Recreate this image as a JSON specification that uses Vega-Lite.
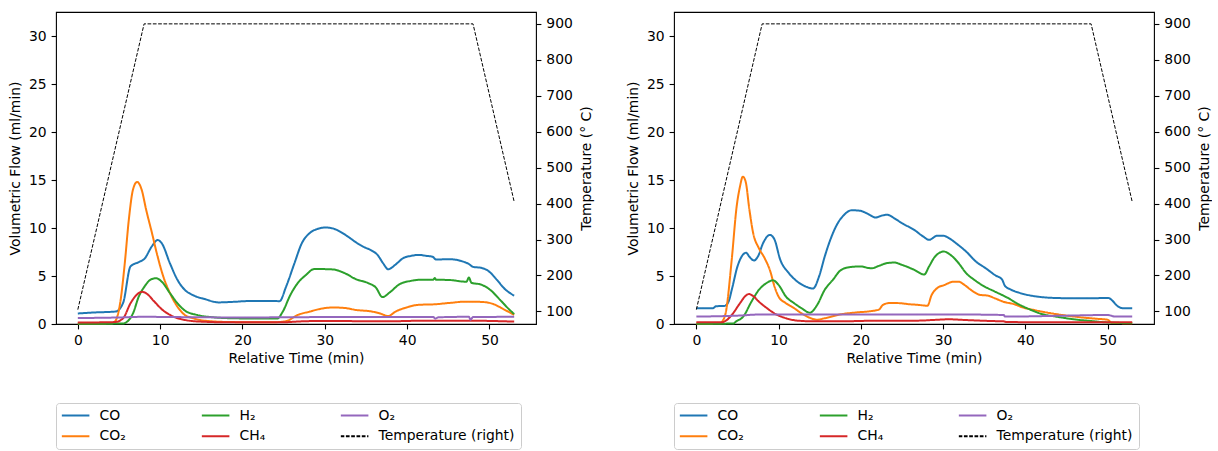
{
  "$schema": "https://vega.github.io/schema/vega-lite/v6.json",
  "padding": {"left": 7, "top": 11, "right": 0, "bottom": 0},
  "background": "white",
  "config": {
    "font": "DejaVu Sans",
    "view": {"stroke": "black", "strokeWidth": 1.1},
    "axis": {"grid": false, "domain": false, "ticks": true, "tickColor": "black", "tickWidth": 1.1, "tickSize": 4.9, "labelPadding": 4.9, "labelFontSize": 13.9, "labelColor": "black", "titleFontSize": 13.9, "titleFontWeight": "normal", "titleColor": "black", "labelFlush": false, "labelOverlap": false},
    "legend": {"orient": "none", "legendX": 0, "legendY": 391, "columns": 3, "direction": "horizontal", "symbolType": "stroke", "symbolSize": 773, "symbolStrokeWidth": 2, "symbolOffset": -1.1, "clipHeight": 14, "labelFontSize": 13.9, "labelColor": "black", "labelOffset": 9.1, "columnPadding": 75, "rowPadding": 6.7, "padding": 5.6, "strokeColor": "#cccccc", "cornerRadius": 3, "fillColor": "white", "gridAlign": "each", "labelLimit": 300, "title": null}
  },
  "datasets": {
    "flow": [
      {"panel":"A","series":"CO","t":0,"v":1.1},{"panel":"A","series":"CO","t":2,"v":1.2},{"panel":"A","series":"CO","t":4.6,"v":1.3},{"panel":"A","series":"CO","t":5.5,"v":2.2},{"panel":"A","series":"CO","t":6.4,"v":6.0},{"panel":"A","series":"CO","t":7.4,"v":6.45},{"panel":"A","series":"CO","t":8.1,"v":6.8},{"panel":"A","series":"CO","t":9.0,"v":8.1},{"panel":"A","series":"CO","t":9.7,"v":8.75},{"panel":"A","series":"CO","t":10.2,"v":8.4},{"panel":"A","series":"CO","t":11.2,"v":6.3},{"panel":"A","series":"CO","t":12.1,"v":4.6},{"panel":"A","series":"CO","t":13,"v":3.55},{"panel":"A","series":"CO","t":14,"v":3.0},{"panel":"A","series":"CO","t":15.4,"v":2.6},{"panel":"A","series":"CO","t":17.1,"v":2.25},{"panel":"A","series":"CO","t":18.7,"v":2.3},{"panel":"A","series":"CO","t":21.1,"v":2.4},{"panel":"A","series":"CO","t":23.4,"v":2.4},{"panel":"A","series":"CO","t":24.5,"v":2.38},{"panel":"A","series":"CO","t":25.3,"v":3.9},{"panel":"A","series":"CO","t":26.3,"v":6.3},{"panel":"A","series":"CO","t":27.2,"v":8.4},{"panel":"A","series":"CO","t":28.2,"v":9.5},{"panel":"A","series":"CO","t":29.1,"v":9.9},{"panel":"A","series":"CO","t":30.1,"v":10.05},{"panel":"A","series":"CO","t":31,"v":9.95},{"panel":"A","series":"CO","t":31.9,"v":9.6},{"panel":"A","series":"CO","t":32.9,"v":9.05},{"panel":"A","series":"CO","t":33.8,"v":8.5},{"panel":"A","series":"CO","t":34.8,"v":8.0},{"panel":"A","series":"CO","t":35.7,"v":7.65},{"panel":"A","series":"CO","t":36.4,"v":7.2},{"panel":"A","series":"CO","t":37.1,"v":6.3},{"panel":"A","series":"CO","t":37.7,"v":5.7},{"panel":"A","series":"CO","t":38.6,"v":6.2},{"panel":"A","series":"CO","t":39.5,"v":6.85},{"panel":"A","series":"CO","t":40.5,"v":7.1},{"panel":"A","series":"CO","t":41.4,"v":7.2},{"panel":"A","series":"CO","t":42.3,"v":7.1},{"panel":"A","series":"CO","t":43.1,"v":7.0},{"panel":"A","series":"CO","t":43.5,"v":6.72},{"panel":"A","series":"CO","t":45.2,"v":6.75},{"panel":"A","series":"CO","t":46.6,"v":6.55},{"panel":"A","series":"CO","t":47.5,"v":6.25},{"panel":"A","series":"CO","t":48,"v":5.95},{"panel":"A","series":"CO","t":49,"v":5.85},{"panel":"A","series":"CO","t":49.9,"v":5.5},{"panel":"A","series":"CO","t":50.9,"v":4.6},{"panel":"A","series":"CO","t":51.8,"v":3.7},{"panel":"A","series":"CO","t":53,"v":2.95},
      {"panel":"A","series":"CO₂","t":0,"v":0.05},{"panel":"A","series":"CO₂","t":4.0,"v":0.07},{"panel":"A","series":"CO₂","t":4.5,"v":0.25},{"panel":"A","series":"CO₂","t":5.2,"v":2.5},{"panel":"A","series":"CO₂","t":5.7,"v":6.3},{"panel":"A","series":"CO₂","t":6.2,"v":10.9},{"panel":"A","series":"CO₂","t":6.7,"v":14.0},{"panel":"A","series":"CO₂","t":7.2,"v":14.8},{"panel":"A","series":"CO₂","t":7.75,"v":14.0},{"panel":"A","series":"CO₂","t":8.3,"v":11.9},{"panel":"A","series":"CO₂","t":9.0,"v":9.5},{"panel":"A","series":"CO₂","t":9.7,"v":7.0},{"panel":"A","series":"CO₂","t":10.4,"v":4.9},{"panel":"A","series":"CO₂","t":11.2,"v":3.2},{"panel":"A","series":"CO₂","t":12.1,"v":1.8},{"panel":"A","series":"CO₂","t":13,"v":0.94},{"panel":"A","series":"CO₂","t":14,"v":0.6},{"panel":"A","series":"CO₂","t":15.4,"v":0.35},{"panel":"A","series":"CO₂","t":18.7,"v":0.2},{"panel":"A","series":"CO₂","t":23.4,"v":0.17},{"panel":"A","series":"CO₂","t":25.3,"v":0.3},{"panel":"A","series":"CO₂","t":26.7,"v":0.94},{"panel":"A","series":"CO₂","t":28.2,"v":1.3},{"panel":"A","series":"CO₂","t":29.6,"v":1.6},{"panel":"A","series":"CO₂","t":31,"v":1.72},{"panel":"A","series":"CO₂","t":32.4,"v":1.67},{"panel":"A","series":"CO₂","t":33.8,"v":1.46},{"panel":"A","series":"CO₂","t":35.7,"v":1.3},{"panel":"A","series":"CO₂","t":36.7,"v":1.1},{"panel":"A","series":"CO₂","t":37.7,"v":0.83},{"panel":"A","series":"CO₂","t":38.6,"v":1.3},{"panel":"A","series":"CO₂","t":40,"v":1.74},{"panel":"A","series":"CO₂","t":41.4,"v":2.0},{"panel":"A","series":"CO₂","t":43.3,"v":2.05},{"panel":"A","series":"CO₂","t":45.2,"v":2.2},{"panel":"A","series":"CO₂","t":47.1,"v":2.33},{"panel":"A","series":"CO₂","t":49,"v":2.3},{"panel":"A","series":"CO₂","t":50.4,"v":2.1},{"panel":"A","series":"CO₂","t":51.8,"v":1.5},{"panel":"A","series":"CO₂","t":53,"v":0.95},
      {"panel":"A","series":"H₂","t":0,"v":0.02},{"panel":"A","series":"H₂","t":5.5,"v":0.05},{"panel":"A","series":"H₂","t":6.0,"v":0.25},{"panel":"A","series":"H₂","t":6.7,"v":1.1},{"panel":"A","series":"H₂","t":7.4,"v":2.85},{"panel":"A","series":"H₂","t":8.1,"v":3.9},{"panel":"A","series":"H₂","t":8.8,"v":4.6},{"panel":"A","series":"H₂","t":9.5,"v":4.77},{"panel":"A","series":"H₂","t":10.2,"v":4.4},{"panel":"A","series":"H₂","t":11.2,"v":3.2},{"panel":"A","series":"H₂","t":12.1,"v":2.16},{"panel":"A","series":"H₂","t":13,"v":1.4},{"panel":"A","series":"H₂","t":14.5,"v":0.94},{"panel":"A","series":"H₂","t":16.4,"v":0.7},{"panel":"A","series":"H₂","t":18.7,"v":0.6},{"panel":"A","series":"H₂","t":23.4,"v":0.56},{"panel":"A","series":"H₂","t":24.2,"v":0.56},{"panel":"A","series":"H₂","t":24.9,"v":1.3},{"panel":"A","series":"H₂","t":25.8,"v":3.0},{"panel":"A","series":"H₂","t":26.7,"v":4.25},{"panel":"A","series":"H₂","t":27.7,"v":5.1},{"panel":"A","series":"H₂","t":28.7,"v":5.72},{"panel":"A","series":"H₂","t":29.6,"v":5.72},{"panel":"A","series":"H₂","t":31,"v":5.68},{"panel":"A","series":"H₂","t":32.4,"v":5.3},{"panel":"A","series":"H₂","t":33.8,"v":4.66},{"panel":"A","series":"H₂","t":35.3,"v":4.25},{"panel":"A","series":"H₂","t":36.2,"v":3.8},{"panel":"A","series":"H₂","t":37.0,"v":2.8},{"panel":"A","series":"H₂","t":37.9,"v":3.3},{"panel":"A","series":"H₂","t":39,"v":4.1},{"panel":"A","series":"H₂","t":40.5,"v":4.5},{"panel":"A","series":"H₂","t":41.9,"v":4.62},{"panel":"A","series":"H₂","t":43.2,"v":4.62},{"panel":"A","series":"H₂","t":43.35,"v":4.8},{"panel":"A","series":"H₂","t":43.5,"v":4.62},{"panel":"A","series":"H₂","t":45.2,"v":4.58},{"panel":"A","series":"H₂","t":47.2,"v":4.4},{"panel":"A","series":"H₂","t":47.5,"v":4.85},{"panel":"A","series":"H₂","t":47.8,"v":4.3},{"panel":"A","series":"H₂","t":49,"v":4.1},{"panel":"A","series":"H₂","t":50.1,"v":3.55},{"panel":"A","series":"H₂","t":51.3,"v":2.5},{"panel":"A","series":"H₂","t":52.3,"v":1.6},{"panel":"A","series":"H₂","t":53,"v":1.04},
      {"panel":"A","series":"CH₄","t":0,"v":0.15},{"panel":"A","series":"CH₄","t":4.5,"v":0.2},{"panel":"A","series":"CH₄","t":5.5,"v":0.6},{"panel":"A","series":"CH₄","t":6.4,"v":2.16},{"panel":"A","series":"CH₄","t":7.1,"v":3.0},{"panel":"A","series":"CH₄","t":7.8,"v":3.35},{"panel":"A","series":"CH₄","t":8.3,"v":3.2},{"panel":"A","series":"CH₄","t":9.3,"v":2.33},{"panel":"A","series":"CH₄","t":10.2,"v":1.53},{"panel":"A","series":"CH₄","t":11.6,"v":0.77},{"panel":"A","series":"CH₄","t":13,"v":0.42},{"panel":"A","series":"CH₄","t":14.9,"v":0.25},{"panel":"A","series":"CH₄","t":18.7,"v":0.17},{"panel":"A","series":"CH₄","t":24.4,"v":0.17},{"panel":"A","series":"CH₄","t":28.2,"v":0.3},{"panel":"A","series":"CH₄","t":32.9,"v":0.3},{"panel":"A","series":"CH₄","t":37.6,"v":0.28},{"panel":"A","series":"CH₄","t":42.3,"v":0.35},{"panel":"A","series":"CH₄","t":47.1,"v":0.35},{"panel":"A","series":"CH₄","t":53,"v":0.25},
      {"panel":"A","series":"O₂","t":0,"v":0.62},{"panel":"A","series":"O₂","t":5,"v":0.68},{"panel":"A","series":"O₂","t":8,"v":0.75},{"panel":"A","series":"O₂","t":12,"v":0.72},{"panel":"A","series":"O₂","t":20,"v":0.68},{"panel":"A","series":"O₂","t":30,"v":0.72},{"panel":"A","series":"O₂","t":40,"v":0.72},{"panel":"A","series":"O₂","t":43.2,"v":0.72},{"panel":"A","series":"O₂","t":43.4,"v":0.55},{"panel":"A","series":"O₂","t":43.8,"v":0.7},{"panel":"A","series":"O₂","t":47.5,"v":0.75},{"panel":"A","series":"O₂","t":47.7,"v":0.45},{"panel":"A","series":"O₂","t":48.0,"v":0.72},{"panel":"A","series":"O₂","t":53,"v":0.75},
      {"panel":"B","series":"CO","t":0,"v":1.64},{"panel":"B","series":"CO","t":2.0,"v":1.64},{"panel":"B","series":"CO","t":2.4,"v":1.85},{"panel":"B","series":"CO","t":3.4,"v":1.88},{"panel":"B","series":"CO","t":3.9,"v":2.3},{"panel":"B","series":"CO","t":4.3,"v":3.55},{"panel":"B","series":"CO","t":5.0,"v":6.0},{"panel":"B","series":"CO","t":6.05,"v":7.42},{"panel":"B","series":"CO","t":6.45,"v":7.0},{"panel":"B","series":"CO","t":7.0,"v":6.62},{"panel":"B","series":"CO","t":7.5,"v":7.05},{"panel":"B","series":"CO","t":8.1,"v":8.4},{"panel":"B","series":"CO","t":8.95,"v":9.28},{"panel":"B","series":"CO","t":9.5,"v":8.8},{"panel":"B","series":"CO","t":10.2,"v":6.7},{"panel":"B","series":"CO","t":11.2,"v":5.35},{"panel":"B","series":"CO","t":12.3,"v":4.4},{"panel":"B","series":"CO","t":13.3,"v":3.9},{"panel":"B","series":"CO","t":14.2,"v":3.7},{"panel":"B","series":"CO","t":14.9,"v":4.9},{"panel":"B","series":"CO","t":15.6,"v":7.0},{"panel":"B","series":"CO","t":16.3,"v":8.8},{"panel":"B","series":"CO","t":17.0,"v":10.2},{"panel":"B","series":"CO","t":18.0,"v":11.4},{"panel":"B","series":"CO","t":18.9,"v":11.85},{"panel":"B","series":"CO","t":19.9,"v":11.8},{"panel":"B","series":"CO","t":20.8,"v":11.5},{"panel":"B","series":"CO","t":21.8,"v":11.1},{"panel":"B","series":"CO","t":22.5,"v":11.28},{"panel":"B","series":"CO","t":23.2,"v":11.38},{"panel":"B","series":"CO","t":24.1,"v":11.0},{"panel":"B","series":"CO","t":25.0,"v":10.5},{"panel":"B","series":"CO","t":26.5,"v":9.8},{"panel":"B","series":"CO","t":27.6,"v":9.1},{"panel":"B","series":"CO","t":28.3,"v":8.77},{"panel":"B","series":"CO","t":29.3,"v":9.2},{"panel":"B","series":"CO","t":30.0,"v":9.2},{"panel":"B","series":"CO","t":30.7,"v":8.95},{"panel":"B","series":"CO","t":31.6,"v":8.4},{"panel":"B","series":"CO","t":32.8,"v":7.55},{"panel":"B","series":"CO","t":34.0,"v":6.5},{"panel":"B","series":"CO","t":35.2,"v":5.8},{"panel":"B","series":"CO","t":36.3,"v":5.1},{"panel":"B","series":"CO","t":37.2,"v":4.6},{"panel":"B","series":"CO","t":37.5,"v":4.0},{"panel":"B","series":"CO","t":38.2,"v":3.6},{"panel":"B","series":"CO","t":39.2,"v":3.27},{"panel":"B","series":"CO","t":40.1,"v":3.06},{"panel":"B","series":"CO","t":41.5,"v":2.85},{"panel":"B","series":"CO","t":43.4,"v":2.72},{"panel":"B","series":"CO","t":45.8,"v":2.68},{"panel":"B","series":"CO","t":48.1,"v":2.68},{"panel":"B","series":"CO","t":50.1,"v":2.72},{"panel":"B","series":"CO","t":50.5,"v":2.5},{"panel":"B","series":"CO","t":51.2,"v":1.88},{"panel":"B","series":"CO","t":51.9,"v":1.64},{"panel":"B","series":"CO","t":53,"v":1.64},
      {"panel":"B","series":"CO₂","t":0,"v":0.05},{"panel":"B","series":"CO₂","t":3.0,"v":0.08},{"panel":"B","series":"CO₂","t":3.15,"v":0.25},{"panel":"B","series":"CO₂","t":3.6,"v":1.3},{"panel":"B","series":"CO₂","t":4.3,"v":6.7},{"panel":"B","series":"CO₂","t":4.9,"v":12.25},{"panel":"B","series":"CO₂","t":5.3,"v":14.3},{"panel":"B","series":"CO₂","t":5.65,"v":15.35},{"panel":"B","series":"CO₂","t":6.0,"v":14.8},{"panel":"B","series":"CO₂","t":6.45,"v":11.9},{"panel":"B","series":"CO₂","t":6.9,"v":9.5},{"panel":"B","series":"CO₂","t":7.6,"v":7.9},{"panel":"B","series":"CO₂","t":8.3,"v":6.86},{"panel":"B","series":"CO₂","t":9.0,"v":5.46},{"panel":"B","series":"CO₂","t":9.5,"v":3.9},{"panel":"B","series":"CO₂","t":10.0,"v":2.85},{"panel":"B","series":"CO₂","t":10.9,"v":2.16},{"panel":"B","series":"CO₂","t":11.9,"v":1.64},{"panel":"B","series":"CO₂","t":12.8,"v":1.1},{"panel":"B","series":"CO₂","t":13.75,"v":0.66},{"panel":"B","series":"CO₂","t":14.7,"v":0.45},{"panel":"B","series":"CO₂","t":15.6,"v":0.6},{"panel":"B","series":"CO₂","t":17.5,"v":1.0},{"panel":"B","series":"CO₂","t":19.4,"v":1.2},{"panel":"B","series":"CO₂","t":21.3,"v":1.35},{"panel":"B","series":"CO₂","t":22.2,"v":1.5},{"panel":"B","series":"CO₂","t":22.7,"v":2.0},{"panel":"B","series":"CO₂","t":23.6,"v":2.2},{"panel":"B","series":"CO₂","t":25.0,"v":2.15},{"panel":"B","series":"CO₂","t":26.0,"v":2.05},{"panel":"B","series":"CO₂","t":26.9,"v":2.0},{"panel":"B","series":"CO₂","t":28.1,"v":1.9},{"panel":"B","series":"CO₂","t":28.6,"v":3.0},{"panel":"B","series":"CO₂","t":29.3,"v":3.75},{"panel":"B","series":"CO₂","t":30.2,"v":4.07},{"panel":"B","series":"CO₂","t":31.2,"v":4.4},{"panel":"B","series":"CO₂","t":31.9,"v":4.4},{"panel":"B","series":"CO₂","t":32.6,"v":4.07},{"panel":"B","series":"CO₂","t":33.5,"v":3.48},{"panel":"B","series":"CO₂","t":34.5,"v":3.03},{"panel":"B","series":"CO₂","t":35.4,"v":2.96},{"panel":"B","series":"CO₂","t":36.3,"v":2.68},{"panel":"B","series":"CO₂","t":37.3,"v":2.33},{"panel":"B","series":"CO₂","t":38.7,"v":2.05},{"panel":"B","series":"CO₂","t":39.6,"v":1.75},{"panel":"B","series":"CO₂","t":41.1,"v":1.45},{"panel":"B","series":"CO₂","t":42.9,"v":1.15},{"panel":"B","series":"CO₂","t":44.8,"v":0.9},{"panel":"B","series":"CO₂","t":46.7,"v":0.7},{"panel":"B","series":"CO₂","t":48.6,"v":0.55},{"panel":"B","series":"CO₂","t":50.0,"v":0.45},{"panel":"B","series":"CO₂","t":50.5,"v":0.14},{"panel":"B","series":"CO₂","t":53,"v":0.07},
      {"panel":"B","series":"H₂","t":0,"v":0.02},{"panel":"B","series":"H₂","t":4.5,"v":0.05},{"panel":"B","series":"H₂","t":4.8,"v":0.25},{"panel":"B","series":"H₂","t":5.7,"v":0.77},{"panel":"B","series":"H₂","t":6.7,"v":2.33},{"panel":"B","series":"H₂","t":7.6,"v":3.55},{"panel":"B","series":"H₂","t":8.6,"v":4.3},{"panel":"B","series":"H₂","t":9.3,"v":4.55},{"panel":"B","series":"H₂","t":10.0,"v":4.07},{"panel":"B","series":"H₂","t":10.9,"v":2.85},{"panel":"B","series":"H₂","t":11.9,"v":2.16},{"panel":"B","series":"H₂","t":12.8,"v":1.64},{"panel":"B","series":"H₂","t":13.8,"v":1.18},{"panel":"B","series":"H₂","t":14.7,"v":2.0},{"panel":"B","series":"H₂","t":15.6,"v":3.55},{"panel":"B","series":"H₂","t":16.6,"v":4.6},{"panel":"B","series":"H₂","t":17.5,"v":5.57},{"panel":"B","series":"H₂","t":18.5,"v":5.9},{"panel":"B","series":"H₂","t":19.9,"v":6.0},{"panel":"B","series":"H₂","t":21.3,"v":5.8},{"panel":"B","series":"H₂","t":22.2,"v":6.06},{"panel":"B","series":"H₂","t":23.2,"v":6.35},{"panel":"B","series":"H₂","t":24.1,"v":6.4},{"panel":"B","series":"H₂","t":25.0,"v":6.16},{"panel":"B","series":"H₂","t":26.5,"v":5.64},{"panel":"B","series":"H₂","t":27.7,"v":5.15},{"panel":"B","series":"H₂","t":28.3,"v":6.0},{"panel":"B","series":"H₂","t":29.0,"v":7.0},{"panel":"B","series":"H₂","t":30.1,"v":7.55},{"panel":"B","series":"H₂","t":30.9,"v":7.2},{"panel":"B","series":"H₂","t":31.9,"v":6.33},{"panel":"B","series":"H₂","t":32.8,"v":5.3},{"panel":"B","series":"H₂","t":33.8,"v":4.6},{"panel":"B","series":"H₂","t":34.9,"v":3.97},{"panel":"B","series":"H₂","t":36.3,"v":3.38},{"panel":"B","series":"H₂","t":37.8,"v":2.75},{"panel":"B","series":"H₂","t":39.2,"v":2.05},{"panel":"B","series":"H₂","t":40.6,"v":1.5},{"panel":"B","series":"H₂","t":42.0,"v":1.04},{"panel":"B","series":"H₂","t":43.9,"v":0.75},{"panel":"B","series":"H₂","t":45.8,"v":0.5},{"panel":"B","series":"H₂","t":48.1,"v":0.3},{"panel":"B","series":"H₂","t":50.5,"v":0.14},{"panel":"B","series":"H₂","t":53,"v":0.1},
      {"panel":"B","series":"CH₄","t":0,"v":0.17},{"panel":"B","series":"CH₄","t":3.0,"v":0.17},{"panel":"B","series":"CH₄","t":3.4,"v":0.25},{"panel":"B","series":"CH₄","t":4.3,"v":0.94},{"panel":"B","series":"CH₄","t":5.3,"v":2.16},{"panel":"B","series":"CH₄","t":6.0,"v":2.95},{"panel":"B","series":"CH₄","t":6.4,"v":3.12},{"panel":"B","series":"CH₄","t":6.9,"v":2.92},{"panel":"B","series":"CH₄","t":7.6,"v":2.33},{"panel":"B","series":"CH₄","t":8.6,"v":1.64},{"panel":"B","series":"CH₄","t":9.5,"v":1.1},{"panel":"B","series":"CH₄","t":10.9,"v":0.6},{"panel":"B","series":"CH₄","t":12.3,"v":0.35},{"panel":"B","series":"CH₄","t":14.2,"v":0.28},{"panel":"B","series":"CH₄","t":17.5,"v":0.28},{"panel":"B","series":"CH₄","t":22.2,"v":0.35},{"panel":"B","series":"CH₄","t":26.9,"v":0.35},{"panel":"B","series":"CH₄","t":28.8,"v":0.42},{"panel":"B","series":"CH₄","t":30.7,"v":0.49},{"panel":"B","series":"CH₄","t":32.6,"v":0.42},{"panel":"B","series":"CH₄","t":36.3,"v":0.3},{"panel":"B","series":"CH₄","t":37.3,"v":0.28},{"panel":"B","series":"CH₄","t":37.8,"v":0.2},{"panel":"B","series":"CH₄","t":53,"v":0.17},
      {"panel":"B","series":"O₂","t":0,"v":0.77},{"panel":"B","series":"O₂","t":5,"v":0.87},{"panel":"B","series":"O₂","t":8,"v":1.0},{"panel":"B","series":"O₂","t":20,"v":1.0},{"panel":"B","series":"O₂","t":30,"v":1.0},{"panel":"B","series":"O₂","t":37.4,"v":0.94},{"panel":"B","series":"O₂","t":37.5,"v":0.77},{"panel":"B","series":"O₂","t":45,"v":0.87},{"panel":"B","series":"O₂","t":50,"v":0.94},{"panel":"B","series":"O₂","t":51,"v":0.77},{"panel":"B","series":"O₂","t":53,"v":0.77}
    ],
    "temp": [
      {"panel":"A","series":"Temperature (right)","t":0,"T":105},{"panel":"A","series":"Temperature (right)","t":8.05,"T":900},{"panel":"A","series":"Temperature (right)","t":48,"T":900},{"panel":"A","series":"Temperature (right)","t":53,"T":405},
      {"panel":"B","series":"Temperature (right)","t":0,"T":105},{"panel":"B","series":"Temperature (right)","t":8.0,"T":900},{"panel":"B","series":"Temperature (right)","t":48,"T":900},{"panel":"B","series":"Temperature (right)","t":53,"T":405}
    ]
  },
  "spacing": 31,
  "resolve": {"scale": {"color": "independent", "strokeDash": "independent"}},
  "hconcat": [
    {
      "width": 480, "height": 312,
      "resolve": {"scale": {"y": "independent"}},
      "layer": [
        {
          "data": {"name": "flow"},
          "transform": [{"filter": "datum.panel === 'A'"}],
          "mark": {"type": "line", "interpolate": "monotone", "strokeWidth": 2},
          "encoding": {
            "x": {"field": "t", "type": "quantitative", "scale": {"domain": [-2.65, 55.65], "nice": false, "zero": false}, "axis": {"values": [0, 10, 20, 30, 40, 50], "title": "Relative Time (min)", "titlePadding": 4}},
            "y": {"field": "v", "type": "quantitative", "scale": {"domain": [0, 32.5], "nice": false}, "axis": {"values": [0, 5, 10, 15, 20, 25, 30], "title": "Volumetric Flow (ml/min)", "titlePadding": 6}},
            "color": {"field": "series", "type": "nominal", "scale": {"domain": ["CO", "H₂", "O₂", "CO₂", "CH₄", "Temperature (right)"], "range": ["#1f77b4", "#2ca02c", "#9467bd", "#ff7f0e", "#d62728", "#000000"]}, "legend": {"title": null}},
            "strokeDash": {"field": "series", "type": "nominal", "scale": {"domain": ["CO", "H₂", "O₂", "CO₂", "CH₄", "Temperature (right)"], "range": [[1, 0], [1, 0], [1, 0], [1, 0], [1, 0], [3.7, 1.6]]}, "legend": {"title": null}}
          }
        },
        {
          "data": {"name": "temp"},
          "transform": [{"filter": "datum.panel === 'A'"}],
          "mark": {"type": "line", "strokeWidth": 1},
          "encoding": {
            "x": {"field": "t", "type": "quantitative"},
            "y": {"field": "T", "type": "quantitative", "scale": {"domain": [65, 933], "nice": false, "zero": false}, "axis": {"orient": "right", "values": [100, 200, 300, 400, 500, 600, 700, 800, 900], "title": "Temperature (° C)", "titleAngle": 270, "titleBaseline": "top", "titlePadding": 7}},
            "color": {"field": "series", "type": "nominal", "legend": {"title": null}},
            "strokeDash": {"field": "series", "type": "nominal", "legend": {"title": null}}
          }
        }
      ]
    },
    {
      "width": 480, "height": 312,
      "resolve": {"scale": {"y": "independent"}},
      "layer": [
        {
          "data": {"name": "flow"},
          "transform": [{"filter": "datum.panel === 'B'"}],
          "mark": {"type": "line", "interpolate": "monotone", "strokeWidth": 2},
          "encoding": {
            "x": {"field": "t", "type": "quantitative", "scale": {"domain": [-2.72, 55.65], "nice": false, "zero": false}, "axis": {"values": [0, 10, 20, 30, 40, 50], "title": "Relative Time (min)", "titlePadding": 4}},
            "y": {"field": "v", "type": "quantitative", "scale": {"domain": [0, 32.5], "nice": false}, "axis": {"values": [0, 5, 10, 15, 20, 25, 30], "title": "Volumetric Flow (ml/min)", "titlePadding": 6}},
            "color": {"field": "series", "type": "nominal", "scale": {"domain": ["CO", "H₂", "O₂", "CO₂", "CH₄", "Temperature (right)"], "range": ["#1f77b4", "#2ca02c", "#9467bd", "#ff7f0e", "#d62728", "#000000"]}, "legend": {"title": null}},
            "strokeDash": {"field": "series", "type": "nominal", "scale": {"domain": ["CO", "H₂", "O₂", "CO₂", "CH₄", "Temperature (right)"], "range": [[1, 0], [1, 0], [1, 0], [1, 0], [1, 0], [3.7, 1.6]]}, "legend": {"title": null}}
          }
        },
        {
          "data": {"name": "temp"},
          "transform": [{"filter": "datum.panel === 'B'"}],
          "mark": {"type": "line", "strokeWidth": 1},
          "encoding": {
            "x": {"field": "t", "type": "quantitative"},
            "y": {"field": "T", "type": "quantitative", "scale": {"domain": [65, 933], "nice": false, "zero": false}, "axis": {"orient": "right", "values": [100, 200, 300, 400, 500, 600, 700, 800, 900], "title": "Temperature (° C)", "titleAngle": 270, "titleBaseline": "top", "titlePadding": 7}},
            "color": {"field": "series", "type": "nominal", "legend": {"title": null}},
            "strokeDash": {"field": "series", "type": "nominal", "legend": {"title": null}}
          }
        }
      ]
    }
  ]
}
